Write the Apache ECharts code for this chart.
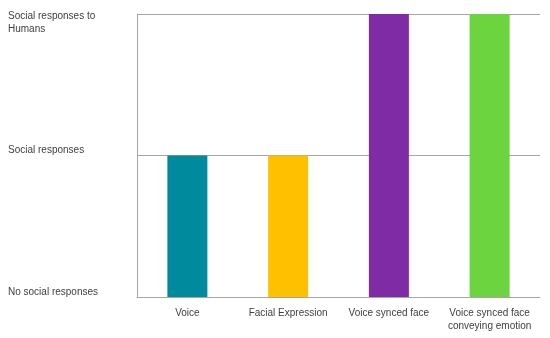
<!DOCTYPE html>
<html><head><meta charset="utf-8">
<script src="https://cdn.jsdelivr.net/npm/echarts@6/dist/echarts.min.js"></script>
<style>html,body{margin:0;padding:0;background:#fff}#c{width:550px;height:338px}</style>
</head><body><div id="c"></div>
<script>
var categories = ['Voice', 'Facial Expression', 'Voice synced face', 'Voice synced face\nconveying emotion'];
var values = [1, 1, 2, 2];
var barColors = ['#008A9E', '#FFC000', '#7F2BA6', '#6CD43F'];
var yTickLabels = ['No social responses', 'Social responses', 'Social responses to\nHumans'];

var chart = echarts.init(document.getElementById('c'));
chart.setOption({
  animation: false,
  grid: { left: 137, right: 10, top: 14, bottom: 41, containLabel: false, outerBoundsMode: 'none' },
  xAxis: {
    type: 'category',
    data: categories,
    axisLine: { lineStyle: { color: '#a6a6a6', width: 1 } },
    axisTick: { show: false },
    axisLabel: { color: '#404040', fontFamily: 'Liberation Sans', fontSize: 10, margin: 10, lineHeight: 13, interval: 0 }
  },
  yAxis: {
    type: 'value', min: 0, max: 2, interval: 1,
    axisLine: { show: true, lineStyle: { color: '#a6a6a6', width: 1 } },
    axisTick: { show: false },
    splitLine: { lineStyle: { color: '#a6a6a6', width: 1 } },
    axisLabel: {
      align: 'left', margin: 129,
      color: '#404040', fontFamily: 'Liberation Sans', fontSize: 10,
      formatter: function (v) {
        var t = yTickLabels[Math.round(v)] || '';
        if (t.indexOf('\n') >= 0) {
          var parts = t.split('\n');
          return '{s| }\n{c|' + parts[0] + '}\n{c|' + parts[1] + '}';
        }
        return '{c|' + t + '}\n{s2| }';
      },
      rich: {
        c: { fontFamily: 'Liberation Sans', fontSize: 10, color: '#404040', lineHeight: 13 },
        s: { fontSize: 1, lineHeight: 17 },
        s2: { fontSize: 1, lineHeight: 10 }
      }
    }
  },
  series: [{
    type: 'bar',
    barWidth: 40,
    data: values.map(function (v, i) { return { value: v, itemStyle: { color: barColors[i] } }; })
  }]
});
</script></body></html>
